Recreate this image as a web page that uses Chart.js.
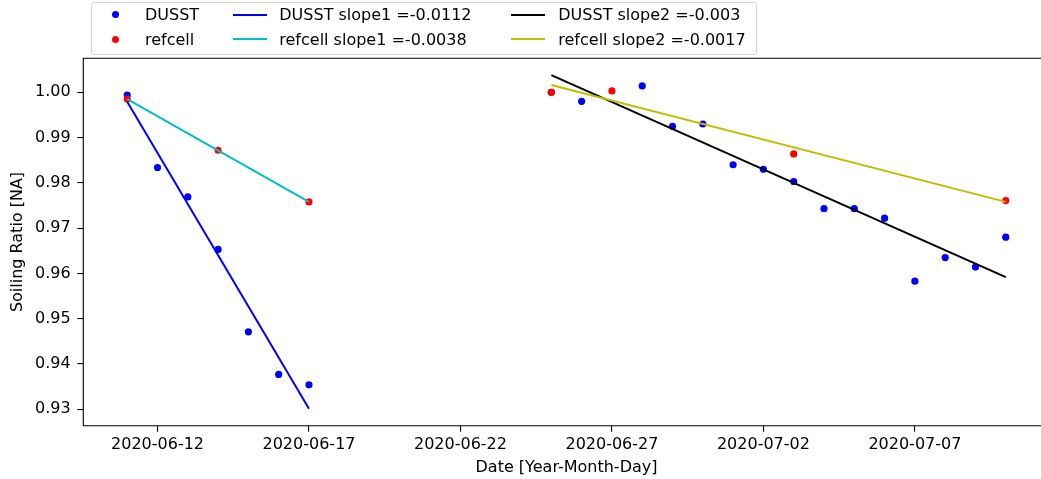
<!DOCTYPE html>
<html>
<head>
<meta charset="utf-8">
<script src="https://cdn.jsdelivr.net/npm/chart.js@4/dist/chart.umd.min.js"></script>
<style>
html, body { margin: 0; padding: 0; overflow: hidden; background: #fff; width: 1041px; height: 479px; }
#c { position: absolute; left: 0; top: 0; }
#legendBox { position: absolute; left: 91px; top: 2px; width: 664px; height: 51px; border: 1px solid #d4d4d4; border-radius: 3px; background: rgba(255,255,255,0.8); }
.lg { position: absolute; font-family: 'DejaVu Sans'; font-size: 16px; line-height: 20px; color: #000; white-space: nowrap; }
.dot { position: absolute; width: 7px; height: 7px; border-radius: 50%; }
.ln { position: absolute; height: 2px; width: 34px; }
</style>
</head>
<body>
<canvas id="c" width="1060" height="479"></canvas>
<div id="legendBox"></div>
<div id="legendItems"></div>
<script>
// ---- data ----
const dusstDates = ['2020-06-11','2020-06-12','2020-06-13','2020-06-14','2020-06-15','2020-06-16','2020-06-17',
  '2020-06-25','2020-06-26','2020-06-28','2020-06-29','2020-06-30','2020-07-01','2020-07-02','2020-07-03',
  '2020-07-04','2020-07-05','2020-07-06','2020-07-07','2020-07-08','2020-07-09','2020-07-10'];
const dusstValues = [0.9994, 0.9834, 0.9769, 0.9653, 0.9471, 0.9377, 0.9354,
  1.0000, 0.9980, 1.0014, 0.9925, 0.9930, 0.9840, 0.9830, 0.9803,
  0.9743, 0.9743, 0.9722, 0.9583, 0.9635, 0.9614, 0.9680];
const refcellDates = ['2020-06-11','2020-06-14','2020-06-17','2020-06-25','2020-06-27','2020-07-03','2020-07-10'];
const refcellValues = [0.9985, 0.9872, 0.9758, 1.0000, 1.0003, 0.9864, 0.9761];

const fit1Dates = ['2020-06-11','2020-06-17'];
const dusstFit1 = [0.9979, 0.9301];
const refcellFit1 = [0.9985, 0.9758];
const fit2Dates = ['2020-06-25','2020-07-10'];
const dusstFit2 = [1.0038, 0.9592];
const refcellFit2 = [1.0016, 0.9758];

const seriesNames = ['DUSST','refcell','DUSST slope1 =-0.0112','refcell slope1 =-0.0038','DUSST slope2 =-0.003','refcell slope2 =-0.0017'];
const xTickLabels = ['2020-06-12','2020-06-17','2020-06-22','2020-06-27','2020-07-02','2020-07-07'];
const yTickValues = [0.93, 0.94, 0.95, 0.96, 0.97, 0.98, 0.99, 1.00];
const xTitle = 'Date [Year-Month-Day]';
const yTitle = 'Soiling Ratio [NA]';

// ---- helpers ----
const baseDay = Date.UTC(2020, 5, 10);
function dayNum(s) { return (new Date(s + 'T00:00:00Z').getTime() - baseDay) / 86400000; }
function pts(dates, vals) { return dates.map((d, i) => ({ x: dayNum(d), y: vals[i] })); }
const xTickDays = xTickLabels.map(dayNum);

const FONT = { family: 'DejaVu Sans', size: 16 };
const colors = ['#0000ff', '#ff0000', '#0000ff', '#00bfbf', '#000000', '#bfbf00'];

// axes frame: left, top and bottom spines (the right spine lies outside the visible page)
const frame = {
  id: 'frame',
  afterDraw(chart) {
    const a = chart.chartArea, c = chart.ctx;
    c.save();
    c.strokeStyle = '#000';
    c.lineWidth = 1.1;
    c.beginPath();
    c.moveTo(chart.width, a.top);
    c.lineTo(a.left, a.top);
    c.lineTo(a.left, a.bottom);
    c.lineTo(chart.width, a.bottom);
    c.stroke();
    c.restore();
  }
};

new Chart(document.getElementById('c'), {
  type: 'scatter',
  data: {
    datasets: [
      { label: seriesNames[0], data: pts(dusstDates, dusstValues), backgroundColor: colors[0], borderWidth: 0, pointRadius: 3.6, order: 6 },
      { label: seriesNames[1], data: pts(refcellDates, refcellValues), backgroundColor: colors[1], borderWidth: 0, pointRadius: 3.6, order: 5 },
      { label: seriesNames[2], data: pts(fit1Dates, dusstFit1), showLine: true, borderColor: colors[2], borderWidth: 2, pointRadius: 0, order: 4 },
      { label: seriesNames[3], data: pts(fit1Dates, refcellFit1), showLine: true, borderColor: colors[3], borderWidth: 2, pointRadius: 0, order: 3 },
      { label: seriesNames[4], data: pts(fit2Dates, dusstFit2), showLine: true, borderColor: colors[4], borderWidth: 2, pointRadius: 0, order: 2 },
      { label: seriesNames[5], data: pts(fit2Dates, refcellFit2), showLine: true, borderColor: colors[5], borderWidth: 2, pointRadius: 0, order: 1 }
    ]
  },
  options: {
    responsive: false,
    animation: false,
    events: [],
    layout: { padding: { left: 0, right: 10.3, top: 58.3, bottom: 0 } },
    plugins: { legend: { display: false }, tooltip: { enabled: false } },
    scales: {
      x: {
        type: 'linear',
        min: -0.45, max: 31.45,
        afterBuildTicks: s => { s.ticks = xTickDays.map(v => ({ value: v })); },
        afterFit: s => { s.height = 53.3; },
        ticks: {
          autoSkip: false, maxRotation: 0, padding: 3.4, color: '#000', font: FONT,
          callback: v => { const i = xTickDays.indexOf(v); return i >= 0 ? xTickLabels[i] : ''; }
        },
        grid: { drawOnChartArea: false, drawTicks: true, tickLength: 6, color: '#000', lineWidth: 1.1 },
        border: { display: false },
        title: { display: true, text: xTitle, color: '#000', font: FONT, padding: { top: 0, bottom: 1.3 } }
      },
      y: {
        type: 'linear',
        min: 0.92638, max: 1.00751,
        afterBuildTicks: s => { s.ticks = yTickValues.map(v => ({ value: v })); },
        afterFit: s => { s.width = 83.3; },
        ticks: { padding: 6.6, color: '#000', font: FONT, callback: v => Number(v).toFixed(2) },
        grid: { drawOnChartArea: false, drawTicks: true, tickLength: 6, color: '#000', lineWidth: 1.1 },
        border: { display: false },
        title: { display: true, text: yTitle, color: '#000', font: FONT, padding: { top: 8.7, bottom: 0 } }
      }
    }
  },
  plugins: [frame]
});

// ---- legend (HTML, 3 columns, column-major like the reference) ----
const legendCols = [
  { markerX: 115, textX: 145 },
  { markerX: 232.7, textX: 279.3 },
  { markerX: 510.5, textX: 558.3 }
];
const rowBase = [20.7, 45.0];
const rowMid = [14.5, 39.2];
const host = document.getElementById('legendItems');
seriesNames.forEach((name, i) => {
  const col = legendCols[Math.floor(i / 2)], row = i % 2;
  if (i < 2) {
    const d = document.createElement('div');
    d.className = 'dot';
    d.style.background = colors[i];
    d.style.left = (col.markerX - 3.5) + 'px';
    d.style.top = (rowMid[row] - 3.5) + 'px';
    host.appendChild(d);
  } else {
    const l = document.createElement('div');
    l.className = 'ln';
    l.style.background = colors[i];
    l.style.left = col.markerX + 'px';
    l.style.top = (rowMid[row] - 1) + 'px';
    host.appendChild(l);
  }
  const t = document.createElement('div');
  t.className = 'lg';
  t.textContent = name;
  t.style.left = col.textX + 'px';
  t.style.top = (rowBase[row] - 15.5) + 'px';
  host.appendChild(t);
});
</script>
</body>
</html>
